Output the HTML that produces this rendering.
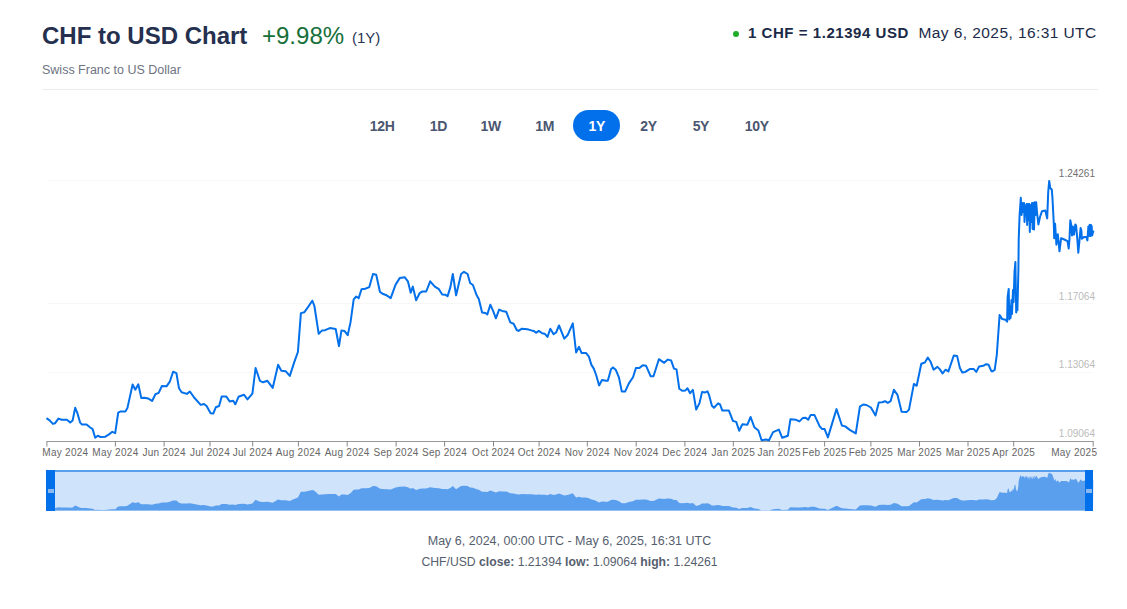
<!DOCTYPE html>
<html><head><meta charset="utf-8"><style>
html,body{margin:0;padding:0;background:#fff;width:1127px;height:609px;overflow:hidden;}
body{font-family:"Liberation Sans",sans-serif;position:relative;}
.a{position:absolute;white-space:nowrap;line-height:1;}
.btn{position:absolute;top:118px;width:60px;text-align:center;font-size:14px;letter-spacing:-0.3px;font-weight:bold;color:#4b5670;line-height:16px;}
.pill{position:absolute;background:#0270ea;border-radius:16px;}
svg{position:absolute;left:0;top:0;}
</style></head><body>
<div class="a" style="left:42px;top:24px;font-size:24px;font-weight:bold;color:#252f4e;">CHF to USD Chart</div>
<div class="a" style="left:262px;top:24px;font-size:24px;color:#17703a;">+9.98%</div>
<div class="a" style="left:352px;top:30px;font-size:15px;color:#273653;">(1Y)</div>
<div class="a" style="left:42px;top:64px;font-size:12.5px;color:#6e7482;">Swiss Franc to US Dollar</div>
<div class="a" style="left:42px;top:89px;width:1056px;height:1px;background:#ececec;"></div>
<div class="a" style="left:733px;top:31px;width:6px;height:6px;border-radius:3px;background:#22ac2a;"></div>
<div class="a" style="left:748px;top:24.5px;font-size:15px;letter-spacing:0.55px;font-weight:bold;color:#1b2a47;">1 CHF = 1.21394 USD</div>
<div class="a" style="left:918.5px;top:25px;font-size:15.5px;letter-spacing:0.42px;color:#1b2a47;">May 6, 2025, 16:31 UTC</div>
<div class="btn" style="left:352.2px">12H</div><div class="btn" style="left:408.4px">1D</div><div class="btn" style="left:460.6px">1W</div><div class="btn" style="left:514.8px">1M</div><div class="pill" style="left:573px;top:110px;width:47px;height:31px;"></div><div class="btn" style="left:566.8px;color:#fff">1Y</div><div class="btn" style="left:618.6px">2Y</div><div class="btn" style="left:670.9px">5Y</div><div class="btn" style="left:726.8px">10Y</div>
<svg width="1127" height="609" viewBox="0 0 1127 609">
<g stroke="#f7f7f7" stroke-width="1">
<path d="M47,180.5 H1093"/><path d="M47,303.5 H1093"/><path d="M47,372.5 H1093"/>
</g>
<path d="M47,441.5 H1093" stroke="#999" stroke-width="1"/>
<path d="M46.9,441 V446.5" stroke="#8a8a8a" stroke-width="1"/><path d="M115.4,441 V446.5" stroke="#8a8a8a" stroke-width="1"/><path d="M164.1,441 V446.5" stroke="#8a8a8a" stroke-width="1"/><path d="M210.0,441 V446.5" stroke="#8a8a8a" stroke-width="1"/><path d="M252.7,441 V446.5" stroke="#8a8a8a" stroke-width="1"/><path d="M298.4,441 V446.5" stroke="#8a8a8a" stroke-width="1"/><path d="M347.2,441 V446.5" stroke="#8a8a8a" stroke-width="1"/><path d="M396.1,441 V446.5" stroke="#8a8a8a" stroke-width="1"/><path d="M444.6,441 V446.5" stroke="#8a8a8a" stroke-width="1"/><path d="M493.5,441 V446.5" stroke="#8a8a8a" stroke-width="1"/><path d="M539.1,441 V446.5" stroke="#8a8a8a" stroke-width="1"/><path d="M587.3,441 V446.5" stroke="#8a8a8a" stroke-width="1"/><path d="M636.2,441 V446.5" stroke="#8a8a8a" stroke-width="1"/><path d="M684.9,441 V446.5" stroke="#8a8a8a" stroke-width="1"/><path d="M733.3,441 V446.5" stroke="#8a8a8a" stroke-width="1"/><path d="M779.2,441 V446.5" stroke="#8a8a8a" stroke-width="1"/><path d="M824.6,441 V446.5" stroke="#8a8a8a" stroke-width="1"/><path d="M870.9,441 V446.5" stroke="#8a8a8a" stroke-width="1"/><path d="M919.5,441 V446.5" stroke="#8a8a8a" stroke-width="1"/><path d="M968.0,441 V446.5" stroke="#8a8a8a" stroke-width="1"/><path d="M1013.7,441 V446.5" stroke="#8a8a8a" stroke-width="1"/><path d="M1093.2,441 V446.5" stroke="#8a8a8a" stroke-width="1"/>
<g font-family="Liberation Sans" font-size="10px" fill="#bbb" text-anchor="end">
<text x="1095" y="177" fill="#707070">1.24261</text>
<text x="1095" y="300">1.17064</text>
<text x="1095" y="368">1.13064</text>
<text x="1095" y="437">1.09064</text>
</g>
<g font-family="Liberation Sans" font-size="10px" letter-spacing="0.28" fill="#666"><text x="42.3" y="456.3" text-anchor="start">May 2024</text><text x="115.4" y="456.3" text-anchor="middle">May 2024</text><text x="164.1" y="456.3" text-anchor="middle">Jun 2024</text><text x="210.0" y="456.3" text-anchor="middle">Jul 2024</text><text x="252.7" y="456.3" text-anchor="middle">Jul 2024</text><text x="298.4" y="456.3" text-anchor="middle">Aug 2024</text><text x="347.2" y="456.3" text-anchor="middle">Aug 2024</text><text x="396.1" y="456.3" text-anchor="middle">Sep 2024</text><text x="444.6" y="456.3" text-anchor="middle">Sep 2024</text><text x="493.5" y="456.3" text-anchor="middle">Oct 2024</text><text x="539.1" y="456.3" text-anchor="middle">Oct 2024</text><text x="587.3" y="456.3" text-anchor="middle">Nov 2024</text><text x="636.2" y="456.3" text-anchor="middle">Nov 2024</text><text x="684.9" y="456.3" text-anchor="middle">Dec 2024</text><text x="733.3" y="456.3" text-anchor="middle">Jan 2025</text><text x="779.2" y="456.3" text-anchor="middle">Jan 2025</text><text x="824.6" y="456.3" text-anchor="middle">Feb 2025</text><text x="870.9" y="456.3" text-anchor="middle">Feb 2025</text><text x="919.5" y="456.3" text-anchor="middle">Mar 2025</text><text x="968.0" y="456.3" text-anchor="middle">Mar 2025</text><text x="1013.7" y="456.3" text-anchor="middle">Apr 2025</text><text x="1097.3" y="456.3" text-anchor="end">May 2025</text></g>
<path d="M47.2,418.6 L49.9,420.6 L52.9,423.9 L55.1,423.2 L58.4,418.6 L61.7,419.7 L66.9,419.7 L70.2,422.6 L72.6,420.6 L75.2,407.8 L77.5,413.4 L80.1,422.6 L82.0,424.5 L86.6,424.5 L89.9,427.2 L92.6,429.1 L95.2,437.7 L97.8,435.7 L100.4,437.0 L105.0,436.8 L109.0,434.4 L112.3,431.8 L115.2,433.1 L118.2,412.7 L120.8,411.4 L125.4,411.4 L127.4,408.1 L132.6,384.5 L135.3,389.7 L138.3,384.3 L141.3,398.1 L144.2,397.8 L148.1,398.4 L152.1,401.0 L155.4,394.2 L158.7,392.9 L161.9,386.0 L166.5,386.3 L169.8,381.7 L173.1,371.8 L176.4,373.1 L179.0,388.3 L181.6,392.2 L186.9,393.9 L189.9,391.5 L194.1,397.5 L200.7,404.9 L204.0,404.0 L206.6,406.0 L210.6,413.2 L213.2,413.6 L215.8,407.3 L219.1,406.0 L221.7,396.5 L226.3,396.5 L229.6,401.4 L233.2,400.7 L235.3,404.3 L238.5,396.8 L243.9,394.7 L247.5,399.4 L252.4,393.6 L255.6,368.0 L259.9,380.8 L263.1,382.3 L267.4,380.8 L272.7,387.9 L278.1,364.8 L281.3,370.8 L285.6,371.2 L289.8,375.9 L294.1,362.6 L297.9,352.0 L300.9,313.1 L304.4,312.2 L308.0,307.1 L312.3,300.7 L314.4,306.0 L318.7,333.8 L321.9,330.6 L325.1,330.2 L329.9,328.1 L335.7,329.0 L339.0,346.2 L341.4,330.6 L344.4,330.9 L347.7,335.2 L350.5,322.4 L353.7,299.4 L356.2,296.5 L358.7,298.1 L361.5,289.2 L365.2,288.7 L369.3,287.1 L373.0,274.0 L376.2,274.8 L380.0,292.0 L382.5,293.7 L386.6,295.3 L390.7,298.1 L395.6,284.6 L399.7,278.1 L404.6,277.2 L407.9,281.3 L410.7,292.8 L412.8,286.6 L416.1,300.2 L419.9,292.8 L422.5,291.5 L426.2,291.5 L430.2,281.3 L434.8,286.6 L438.9,289.2 L442.2,294.5 L445.5,294.8 L447.6,296.1 L450.4,287.1 L452.8,274.0 L456.1,295.3 L461.1,274.0 L464.0,271.8 L467.6,274.0 L470.1,283.0 L472.9,285.0 L476.7,295.3 L478.8,299.1 L482.1,312.5 L485.4,312.9 L487.3,314.5 L490.3,304.7 L493.1,310.9 L495.9,318.3 L499.1,309.6 L502.1,310.9 L506.2,311.7 L510.3,322.4 L513.6,323.7 L516.9,330.3 L518.6,330.9 L521.9,328.7 L527.3,329.2 L531.4,330.4 L533.9,330.9 L536.0,332.8 L538.8,330.9 L542.1,333.2 L544.6,333.7 L547.5,336.9 L550.3,328.7 L553.6,334.2 L556.1,332.5 L559.0,325.5 L564.3,338.6 L567.5,335.3 L572.8,323.3 L576.1,352.5 L579.0,346.8 L581.5,352.9 L585.9,352.9 L588.9,356.7 L591.4,364.9 L593.8,368.6 L596.3,375.5 L599.1,385.4 L602.0,380.1 L606.1,380.8 L607.8,380.8 L611.1,369.0 L613.0,367.4 L615.7,369.7 L619.0,377.6 L621.8,391.6 L625.1,391.6 L628.9,383.4 L633.0,377.3 L635.9,368.1 L639.2,368.1 L642.8,365.3 L646.1,365.8 L650.7,376.3 L653.5,376.3 L658.9,359.2 L664.2,362.8 L667.8,359.6 L671.1,360.4 L674.0,368.6 L676.5,369.4 L679.3,388.8 L682.2,390.8 L685.5,390.4 L687.5,388.3 L690.1,393.2 L692.9,389.9 L696.2,409.6 L699.5,403.1 L702.0,392.1 L705.2,392.4 L707.5,391.4 L709.1,395.2 L711.9,405.8 L714.0,407.8 L718.1,403.4 L720.1,404.5 L722.2,410.4 L728.8,410.4 L732.9,420.9 L736.2,421.9 L739.2,430.8 L742.4,424.2 L747.4,424.7 L750.6,417.0 L754.3,427.2 L758.4,430.5 L761.6,440.3 L765.8,439.5 L769.0,440.3 L773.1,432.1 L778.9,429.6 L782.2,437.8 L787.9,435.7 L790.4,419.3 L796.1,419.8 L799.4,421.4 L802.7,418.1 L805.7,417.7 L808.2,419.8 L810.7,414.9 L814.4,414.9 L819.7,426.4 L822.2,429.1 L824.6,429.1 L827.9,437.4 L832.0,423.9 L836.5,409.1 L841.9,425.5 L845.2,426.4 L850.1,430.1 L855.8,433.4 L859.9,406.7 L863.2,404.5 L866.5,405.0 L870.9,407.5 L875.5,415.4 L878.8,402.5 L882.1,402.2 L885.1,401.2 L887.8,402.9 L890.6,401.2 L893.9,389.7 L897.5,394.9 L901.6,411.8 L906.5,412.1 L909.0,409.6 L913.9,383.9 L916.7,385.8 L921.3,363.7 L924.9,362.5 L927.8,357.6 L930.3,361.2 L933.6,369.7 L937.4,366.9 L939.7,369.1 L942.6,373.5 L945.6,369.7 L948.4,371.4 L953.8,355.5 L957.1,355.9 L959.9,368.1 L962.3,372.4 L965.3,371.9 L969.7,369.1 L973.8,369.1 L976.3,371.9 L979.1,366.5 L983.3,365.8 L986.1,364.2 L988.6,364.8 L991.1,370.7 L992.1,371.5 L994.7,369.8 L996.8,354.8 L999.6,315.1 L1002.2,319.1 L1005.5,319.7 L1007.1,321.7 L1007.6,297.5 L1008.7,288.9 L1009.3,319.4 L1010.0,306.0 L1010.6,318.0 L1011.5,300.0 L1012.0,314.0 L1013.0,290.0 L1013.6,302.0 L1014.5,272.2 L1015.4,261.9 L1016.2,312.5 L1016.8,295.0 L1017.4,310.2 L1018.4,269.7 L1018.7,240.0 L1019.6,215.0 L1020.8,197.8 L1021.6,215.0 L1022.5,203.0 L1023.3,212.0 L1024.0,203.0 L1024.5,222.0 L1025.3,209.0 L1026.5,204.0 L1027.2,225.0 L1027.8,204.0 L1028.6,220.0 L1029.3,204.0 L1029.8,231.9 L1030.5,205.0 L1031.2,222.0 L1032.0,203.0 L1032.6,229.0 L1033.3,203.0 L1034.0,229.4 L1034.7,202.3 L1035.5,215.0 L1036.2,202.3 L1037.0,212.0 L1038.4,224.5 L1040.0,217.0 L1042.0,211.2 L1045.3,210.5 L1047.2,218.4 L1048.2,192.1 L1049.2,180.9 L1050.3,188.2 L1051.8,189.5 L1052.5,198.7 L1053.8,223.7 L1054.2,238.2 L1055.1,223.7 L1056.4,244.7 L1057.8,234.2 L1059.5,251.3 L1061.1,238.2 L1064.3,239.5 L1067.5,241.2 L1068.7,248.6 L1069.5,238.8 L1070.3,220.3 L1071.2,224.8 L1072.0,235.5 L1072.8,226.4 L1074.0,234.7 L1075.3,224.4 L1076.1,225.6 L1077.3,238.8 L1078.3,252.7 L1079.4,241.2 L1080.6,228.1 L1081.4,230.5 L1081.8,238.8 L1083.9,237.1 L1086.4,237.1 L1087.4,240.4 L1088.4,226.4 L1089.0,236.0 L1089.7,224.8 L1090.5,236.0 L1091.0,225.0 L1091.7,226.4 L1092.1,235.5 L1093.3,231.4" fill="none" stroke="#0270ea" stroke-width="2" stroke-linejoin="round" stroke-linecap="round"/>
<rect x="47" y="471" width="1046" height="40" fill="#cfe3fb"/>
<path d="M47,510.5 L47.2,507.2 L49.9,507.5 L52.9,508.0 L55.1,507.9 L58.4,507.2 L61.7,507.4 L66.9,507.4 L70.2,507.8 L72.6,507.5 L75.2,505.6 L77.5,506.5 L80.1,507.8 L82.0,508.1 L86.6,508.1 L89.9,508.5 L92.6,508.8 L95.2,510.0 L97.8,509.7 L100.4,509.9 L105.0,509.9 L109.0,509.5 L112.3,509.2 L115.2,509.3 L118.2,506.4 L120.8,506.2 L125.4,506.2 L127.4,505.7 L132.6,502.2 L135.3,503.0 L138.3,502.2 L141.3,504.2 L144.2,504.2 L148.1,504.3 L152.1,504.7 L155.4,503.7 L158.7,503.5 L161.9,502.5 L166.5,502.5 L169.8,501.8 L173.1,500.4 L176.4,500.6 L179.0,502.8 L181.6,503.4 L186.9,503.6 L189.9,503.3 L194.1,504.1 L200.7,505.2 L204.0,505.1 L206.6,505.4 L210.6,506.4 L213.2,506.5 L215.8,505.6 L219.1,505.4 L221.7,504.0 L226.3,504.0 L229.6,504.7 L233.2,504.6 L235.3,505.1 L238.5,504.0 L243.9,503.7 L247.5,504.4 L252.4,503.6 L255.6,499.8 L259.9,501.7 L263.1,501.9 L267.4,501.7 L272.7,502.7 L278.1,499.4 L281.3,500.2 L285.6,500.3 L289.8,501.0 L294.1,499.0 L297.9,497.5 L300.9,491.8 L304.4,491.7 L308.0,490.9 L312.3,490.0 L314.4,490.8 L318.7,494.8 L321.9,494.4 L325.1,494.3 L329.9,494.0 L335.7,494.1 L339.0,496.6 L341.4,494.4 L344.4,494.4 L347.7,495.0 L350.5,493.2 L353.7,489.8 L356.2,489.4 L358.7,489.6 L361.5,488.3 L365.2,488.2 L369.3,488.0 L373.0,486.1 L376.2,486.2 L380.0,488.7 L382.5,489.0 L386.6,489.2 L390.7,489.6 L395.6,487.6 L399.7,486.7 L404.6,486.6 L407.9,487.2 L410.7,488.8 L412.8,487.9 L416.1,489.9 L419.9,488.8 L422.5,488.6 L426.2,488.6 L430.2,487.2 L434.8,487.9 L438.9,488.3 L442.2,489.1 L445.5,489.1 L447.6,489.3 L450.4,488.0 L452.8,486.1 L456.1,489.2 L461.1,486.1 L464.0,485.8 L467.6,486.1 L470.1,487.4 L472.9,487.7 L476.7,489.2 L478.8,489.8 L482.1,491.7 L485.4,491.8 L487.3,492.0 L490.3,490.6 L493.1,491.5 L495.9,492.6 L499.1,491.3 L502.1,491.5 L506.2,491.6 L510.3,493.2 L513.6,493.4 L516.9,494.3 L518.6,494.4 L521.9,494.1 L527.3,494.2 L531.4,494.3 L533.9,494.4 L536.0,494.7 L538.8,494.4 L542.1,494.7 L544.6,494.8 L547.5,495.3 L550.3,494.1 L553.6,494.9 L556.1,494.6 L559.0,493.6 L564.3,495.5 L567.5,495.1 L572.8,493.3 L576.1,497.6 L579.0,496.7 L581.5,497.6 L585.9,497.6 L588.9,498.2 L591.4,499.4 L593.8,499.9 L596.3,500.9 L599.1,502.4 L602.0,501.6 L606.1,501.7 L607.8,501.7 L611.1,500.0 L613.0,499.7 L615.7,500.1 L619.0,501.2 L621.8,503.3 L625.1,503.3 L628.9,502.1 L633.0,501.2 L635.9,499.8 L639.2,499.8 L642.8,499.4 L646.1,499.5 L650.7,501.0 L653.5,501.0 L658.9,498.5 L664.2,499.1 L667.8,498.6 L671.1,498.7 L674.0,499.9 L676.5,500.0 L679.3,502.9 L682.2,503.2 L685.5,503.1 L687.5,502.8 L690.1,503.5 L692.9,503.0 L696.2,505.9 L699.5,505.0 L702.0,503.4 L705.2,503.4 L707.5,503.3 L709.1,503.8 L711.9,505.4 L714.0,505.6 L718.1,505.0 L720.1,505.2 L722.2,506.0 L728.8,506.0 L732.9,507.6 L736.2,507.7 L739.2,509.0 L742.4,508.0 L747.4,508.1 L750.6,507.0 L754.3,508.5 L758.4,509.0 L761.6,510.4 L765.8,510.3 L769.0,510.4 L773.1,509.2 L778.9,508.8 L782.2,510.0 L787.9,509.7 L790.4,507.3 L796.1,507.4 L799.4,507.6 L802.7,507.2 L805.7,507.1 L808.2,507.4 L810.7,506.7 L814.4,506.7 L819.7,508.4 L822.2,508.8 L824.6,508.8 L827.9,510.0 L832.0,508.0 L836.5,505.8 L841.9,508.2 L845.2,508.4 L850.1,508.9 L855.8,509.4 L859.9,505.5 L863.2,505.2 L866.5,505.2 L870.9,505.6 L875.5,506.8 L878.8,504.9 L882.1,504.8 L885.1,504.7 L887.8,504.9 L890.6,504.7 L893.9,503.0 L897.5,503.8 L901.6,506.2 L906.5,506.3 L909.0,505.9 L913.9,502.2 L916.7,502.4 L921.3,499.2 L924.9,499.0 L927.8,498.3 L930.3,498.8 L933.6,500.1 L937.4,499.7 L939.7,500.0 L942.6,500.6 L945.6,500.1 L948.4,500.3 L953.8,498.0 L957.1,498.1 L959.9,499.8 L962.3,500.5 L965.3,500.4 L969.7,500.0 L973.8,500.0 L976.3,500.4 L979.1,499.6 L983.3,499.5 L986.1,499.3 L988.6,499.4 L991.1,500.2 L992.1,500.3 L994.7,500.1 L996.8,497.9 L999.6,492.1 L1002.2,492.7 L1005.5,492.8 L1007.1,493.1 L1007.6,489.5 L1008.7,488.3 L1009.3,492.7 L1010.0,490.8 L1010.6,492.5 L1011.5,489.9 L1012.0,491.9 L1013.0,488.4 L1013.6,490.2 L1014.5,485.8 L1015.4,484.3 L1016.2,491.7 L1016.8,489.2 L1017.4,491.4 L1018.4,485.5 L1018.7,481.1 L1019.6,477.5 L1020.8,475.0 L1021.6,477.5 L1022.5,475.7 L1023.3,477.0 L1024.0,475.7 L1024.5,478.5 L1025.3,476.6 L1026.5,475.9 L1027.2,478.9 L1027.8,475.9 L1028.6,478.2 L1029.3,475.9 L1029.8,479.9 L1030.5,476.0 L1031.2,478.5 L1032.0,475.7 L1032.6,479.5 L1033.3,475.7 L1034.0,479.6 L1034.7,475.6 L1035.5,477.5 L1036.2,475.6 L1037.0,477.0 L1038.4,478.9 L1040.0,477.8 L1042.0,476.9 L1045.3,476.8 L1047.2,478.0 L1048.2,474.1 L1049.2,472.5 L1050.3,473.6 L1051.8,473.7 L1052.5,475.1 L1053.8,478.7 L1054.2,480.9 L1055.1,478.7 L1056.4,481.8 L1057.8,480.3 L1059.5,482.8 L1061.1,480.9 L1064.3,481.1 L1067.5,481.3 L1068.7,482.4 L1069.5,480.9 L1070.3,478.2 L1071.2,478.9 L1072.0,480.5 L1072.8,479.1 L1074.0,480.3 L1075.3,478.8 L1076.1,479.0 L1077.3,480.9 L1078.3,483.0 L1079.4,481.3 L1080.6,479.4 L1081.4,479.7 L1081.8,480.9 L1083.9,480.7 L1086.4,480.7 L1087.4,481.2 L1088.4,479.1 L1089.0,480.5 L1089.7,478.9 L1090.5,480.5 L1091.0,478.9 L1091.7,479.1 L1092.1,480.5 L1093.3,479.9 L1093,510.5 Z" fill="#5a9eee"/>
<rect x="47" y="470" width="1046" height="2" fill="#5a9eee"/>
<rect x="46" y="470" width="9" height="41" fill="#0270ea"/>
<rect x="48" y="489" width="6" height="4" fill="#8cb8f0"/>
<rect x="1085" y="470" width="8" height="41" fill="#0270ea"/>
<rect x="1086" y="489" width="6" height="4" fill="#8cb8f0"/>
</svg>
<div class="a" style="left:6px;width:1127px;text-align:center;top:535px;font-size:12.5px;color:#555e6e;">May 6, 2024, 00:00 UTC - May 6, 2025, 16:31 UTC</div>
<div class="a" style="left:6px;width:1127px;text-align:center;top:555.5px;font-size:12.2px;color:#555e6e;">CHF/USD <b>close:</b> 1.21394 <b>low:</b> 1.09064 <b>high:</b> 1.24261</div>
</body></html>
